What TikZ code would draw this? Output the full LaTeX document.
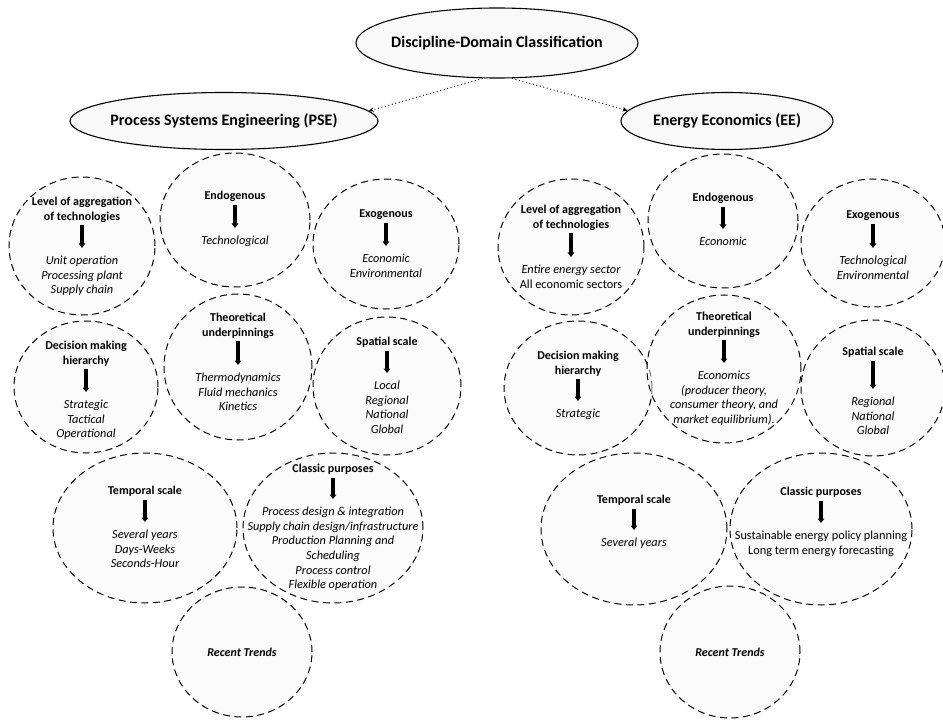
\documentclass[tikz,border=0pt]{standalone}
\usepackage{fontspec}
\setmainfont{Carlito}
\usetikzlibrary{shapes.geometric,arrows.meta}

\begin{document}
\begin{tikzpicture}[x=1pt,y=-1pt,
  topoval/.style={ellipse, draw=black, line width=1.1pt, fill=gray!5, inner sep=0pt},
  ring/.style={ellipse, draw=black, line width=1pt, dash pattern=on 7pt off 4.5pt,
               fill=gray!6, fill opacity=0.5, inner sep=0pt},
  toptext/.style={font=\fontsize{16}{19}\selectfont\bfseries, inner sep=0pt},
  head/.style={font=\fontsize{12}{14.6}\selectfont\bfseries, align=center, inner sep=0pt, anchor=north},
  items/.style={font=\fontsize{12.3}{14.6}\selectfont\itshape, align=center, inner sep=0pt, anchor=north},
  plainitems/.style={items, font=\fontsize{12.3}{14.6}\selectfont},
  trend/.style={font=\fontsize{12}{14.6}\selectfont\bfseries\itshape, inner sep=0pt},
  down/.style={-{Triangle[length=4.5pt,width=6.5pt]}, line width=3.4pt, shorten <=3pt, shorten >=8pt},
  link/.style={-{Stealth[length=5pt,width=4.5pt]}, line width=0.9pt, dash pattern=on 1pt off 2.6pt},
]
\useasboundingbox (0,0) rectangle (943,722);

% ---------- top level ----------
\node[topoval, minimum width=282pt, minimum height=70pt] (ddc) at (497,43) {};
\node[toptext] (ddcT) at (ddc) {Discipline-Domain Classification};
\node[topoval, minimum width=308pt, minimum height=57pt] (pse) at (224,121) {};
\node[toptext] (pseT) at (pse) {Process Systems Engineering (PSE)};
\node[topoval, minimum width=212pt, minimum height=57pt] (ee) at (727,121) {};
\node[toptext] (eeT) at (ee) {Energy Economics (EE)};

\draw[link] (ddc.248) -- (pse.4);
\draw[link] (ddc.293) -- (ee.174);

% ---------- PSE characteristics ----------
\node[ring, minimum width=146pt, minimum height=138pt] (pLev) at (82,246) {};
\node[head] (pLevT) at (82,197) {Level of aggregation\\of technologies};
\node[items] (pLevI) at (82,256) {Unit operation\\Processing plant\\Supply chain};
\draw[down] (pLevT) -- (pLevI);

\node[ring, minimum width=150pt, minimum height=134pt] (pEndo) at (235,220) {};
\node[head] (pEndoT) at (235,191) {Endogenous};
\node[items] (pEndoI) at (235,236) {Technological};
\draw[down] (pEndoT) -- (pEndoI);

\node[ring, minimum width=146pt, minimum height=130pt] (pExo) at (386,244) {};
\node[head] (pExoT) at (386,210) {Exogenous};
\node[items] (pExoI) at (386,254) {Economic\\Environmental};
\draw[down] (pExoT) -- (pExoI);

\node[ring, minimum width=144pt, minimum height=132pt] (pDec) at (86,387) {};
\node[head] (pDecT) at (86,341) {Decision making\\hierarchy};
\node[items] (pDecI) at (86,400) {Strategic\\Tactical\\Operational};
\draw[down] (pDecT) -- (pDecI);

\node[ring, minimum width=148pt, minimum height=146pt] (pTheo) at (238,367) {};
\node[head] (pTheoT) at (238,313) {Theoretical\\underpinnings};
\node[items] (pTheoI) at (238,373) {Thermodynamics\\Fluid mechanics\\Kinetics};
\draw[down] (pTheoT) -- (pTheoI);

\node[ring, minimum width=148pt, minimum height=138pt] (pSpat) at (387,386) {};
\node[head] (pSpatT) at (387,337) {Spatial scale};
\node[items] (pSpatI) at (387,381) {Local\\Regional\\National\\Global};
\draw[down] (pSpatT) -- (pSpatI);

\node[ring, minimum width=184pt, minimum height=150pt] (pTemp) at (145,528) {};
\node[head] (pTempT) at (145,486) {Temporal scale};
\node[items] (pTempI) at (145,530) {Several years\\Days-Weeks\\Seconds-Hour};
\draw[down] (pTempT) -- (pTempI);

\node[ring, minimum width=180pt, minimum height=150pt] (pClas) at (333,528) {};
\node[head] (pClasT) at (333,464) {Classic purposes};
\node[items] (pClasI) at (333,507) {Process design \& integration\\Supply chain design/infrastructure\\Production Planning and\\Scheduling\\Process control\\Flexible operation};
\draw[down] (pClasT) -- (pClasI);

\node[ring, minimum width=140pt, minimum height=130pt] (pRec) at (242,652) {};
\node[trend] (pRecT) at (pRec) {Recent Trends};

% ---------- EE characteristics ----------
\node[ring, minimum width=146pt, minimum height=136pt] (eLev) at (571,247) {};
\node[head] (eLevT) at (571,205) {Level of aggregation\\of technologies};
\node[items] (eLevI) at (571,265) {Entire energy sector\\\upshape All economic sectors};
\draw[down] (eLevT) -- (eLevI);

\node[ring, minimum width=150pt, minimum height=134pt] (eEndo) at (723,221) {};
\node[head] (eEndoT) at (723,193) {Endogenous};
\node[items] (eEndoI) at (723,237) {Economic};
\draw[down] (eEndoT) -- (eEndoI);

\node[ring, minimum width=144pt, minimum height=128pt] (eExo) at (873,243) {};
\node[head] (eExoT) at (873,211) {Exogenous};
\node[items] (eExoI) at (873,256) {Technological\\Environmental};
\draw[down] (eExoT) -- (eExoI);

\node[ring, minimum width=148pt, minimum height=134pt] (eDec) at (578,388) {};
\node[head] (eDecT) at (578,351) {Decision making\\hierarchy};
\node[items] (eDecI) at (578,409) {Strategic};
\draw[down] (eDecT) -- (eDecI);

\node[ring, minimum width=154pt, minimum height=148pt] (eTheo) at (724,369) {};
\node[head] (eTheoT) at (724,312) {Theoretical\\underpinnings};
\node[items] (eTheoI) at (724,371) {Economics\\(producer theory,\\consumer theory, and\\market equilibrium).};
\draw[down] (eTheoT) -- (eTheoI);

\node[ring, minimum width=144pt, minimum height=136pt] (eSpat) at (873,388) {};
\node[head] (eSpatT) at (873,347) {Spatial scale};
\node[items] (eSpatI) at (873,397) {Regional\\National\\Global};
\draw[down] (eSpatT) -- (eSpatI);

\node[ring, minimum width=186pt, minimum height=152pt] (eTemp) at (634,529) {};
\node[head] (eTempT) at (634,495) {Temporal scale};
\node[items] (eTempI) at (634,538) {Several years};
\draw[down] (eTempT) -- (eTempI);

\node[ring, minimum width=182pt, minimum height=152pt] (eClas) at (821,529) {};
\node[head] (eClasT) at (821,487) {Classic purposes};
\node[plainitems] (eClasI) at (821,531) {Sustainable energy policy planning\\Long term energy forecasting};
\draw[down] (eClasT) -- (eClasI);

\node[ring, minimum width=140pt, minimum height=132pt] (eRec) at (730,652) {};
\node[trend] (eRecT) at (eRec) {Recent Trends};
\end{tikzpicture}
\end{document}
